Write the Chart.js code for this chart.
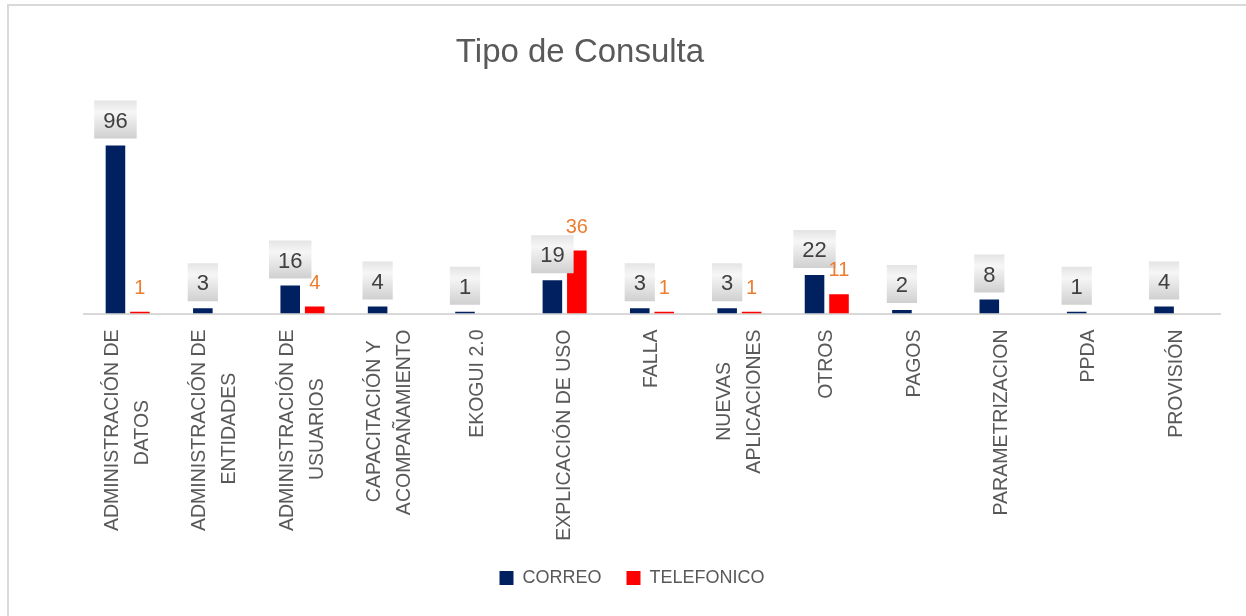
<!DOCTYPE html>
<html>
<head>
<meta charset="utf-8">
<script src="https://cdn.jsdelivr.net/npm/chart.js@4.4.0/dist/chart.umd.min.js"></script>
<style>
html,body{margin:0;padding:0;background:#fff;overflow:hidden;width:1246px;height:616px}
#frame{position:absolute;left:7px;top:4px;width:1400px;height:800px;border-left:2px solid #d9d9d9;border-top:2px solid #d9d9d9;box-sizing:border-box}
#c{position:absolute;left:0;top:0}
</style>
</head>
<body>
<div id="frame"></div>
<canvas id="c" width="1246" height="616"></canvas>
<script>
const titleText = "Tipo de Consulta";
const categories = [
  ["ADMINISTRACIÓN DE", "DATOS"],
  ["ADMINISTRACIÓN DE", "ENTIDADES"],
  ["ADMINISTRACIÓN DE", "USUARIOS"],
  ["CAPACITACIÓN Y", "ACOMPAÑAMIENTO"],
  "EKOGUI 2.0",
  "EXPLICACIÓN DE USO",
  "FALLA",
  ["NUEVAS", "APLICACIONES"],
  "OTROS",
  "PAGOS",
  "PARAMETRIZACION",
  "PPDA",
  "PROVISIÓN"
];
const seriesNames = ["CORREO", "TELEFONICO"];
const correo = [96, 3, 16, 4, 1, 19, 3, 3, 22, 2, 8, 1, 4];
const telefonico = [1, null, 4, null, null, 36, 1, 1, 11, null, null, null, null];

const FONT = '"Liberation Sans", Arial, sans-serif';
const TICK_SIZE = 19.5;

// measure context used to center the lines of two-line category labels
const mctx = document.createElement('canvas').getContext('2d');
mctx.font = TICK_SIZE + 'px ' + FONT;
function centerPad(line, width) {
  // add trailing spaces so that right-aligned rotated lines appear centred
  const spaceW = mctx.measureText(' ').width;
  const w = mctx.measureText(line).width;
  const n = Math.round((width - w) / 2 / spaceW);
  return line + ' '.repeat(Math.max(0, n));
}

const titlePlugin = {
  id: 'customTitle',
  afterDraw(chart) {
    const ctx = chart.ctx;
    ctx.save();
    ctx.font = '33px ' + FONT;
    ctx.fillStyle = '#595959';
    ctx.textAlign = 'center';
    ctx.textBaseline = 'alphabetic';
    ctx.fillText(titleText, 580, 62);
    ctx.restore();
  }
};

const valueLabelPlugin = {
  id: 'valueLabels',
  afterDatasetsDraw(chart) {
    const ctx = chart.ctx;
    ctx.save();
    ctx.textAlign = 'center';
    ctx.textBaseline = 'alphabetic';
    ctx.font = '22px ' + FONT;
    const m0 = chart.getDatasetMeta(0);
    m0.data.forEach((bar, i) => {
      const v = chart.data.datasets[0].data[i];
      if (v == null) return;
      const t = String(v);
      const w = ctx.measureText(t).width + 18;
      const h = 38;
      const x = bar.x - w / 2;
      const y = bar.y - 7 - h;
      const g = ctx.createLinearGradient(0, y, 0, y + h);
      g.addColorStop(0, '#e4e4e4');
      g.addColorStop(0.3, '#f6f6f6');
      g.addColorStop(1, '#d0d0d0');
      ctx.fillStyle = g;
      ctx.fillRect(x, y, w, h);
      ctx.fillStyle = '#404040';
      ctx.fillText(t, bar.x, y + h / 2 + 8);
    });
    ctx.font = '20px ' + FONT;
    ctx.fillStyle = '#ED7D31';
    const m1 = chart.getDatasetMeta(1);
    m1.data.forEach((bar, i) => {
      const v = chart.data.datasets[1].data[i];
      if (v == null) return;
      ctx.fillText(String(v), bar.x, bar.y - 18);
    });
    ctx.restore();
  }
};

new Chart(document.getElementById('c'), {
  type: 'bar',
  data: {
    labels: categories,
    datasets: [
      { label: seriesNames[0], data: correo, backgroundColor: '#002060', borderWidth: 0,
        categoryPercentage: 0.56, barPercentage: 0.8 },
      { label: seriesNames[1], data: telefonico, backgroundColor: '#FF0000', borderWidth: 0,
        categoryPercentage: 0.56, barPercentage: 0.8 }
    ]
  },
  options: {
    responsive: false,
    animation: false,
    devicePixelRatio: 1,
    layout: { padding: { left: 44, right: 26, top: 103.5, bottom: 19 } },
    plugins: {
      title: { display: false },
      tooltip: { enabled: false },
      legend: {
        position: 'bottom',
        labels: {
          color: '#595959',
          font: { family: FONT, size: 18 },
          boxWidth: 14,
          boxHeight: 14,
          padding: 25
        }
      }
    },
    scales: {
      x: {
        grid: { display: false, drawTicks: false },
        border: { display: true, color: '#d9d9d9', width: 2 },
        ticks: {
          autoSkip: false,
          minRotation: 90,
          maxRotation: 90,
          padding: 16,
          labelOffset: -15,
          color: '#595959',
          font: { family: FONT, size: TICK_SIZE, lineHeight: '15px' },
          callback: function (value, index) {
            const l = categories[index];
            if (!Array.isArray(l)) return ['', l];
            const W = Math.max(mctx.measureText(l[0]).width, mctx.measureText(l[1]).width);
            return [centerPad(l[0], W), '', centerPad(l[1], W)];
          }
        },
        afterFit: function (s) { s.height = 230.5; }
      },
      y: {
        display: true,
        min: 0,
        max: 120,
        grid: { display: false, drawTicks: false },
        border: { display: false },
        ticks: { display: false },
        afterFit: function (s) { s.width = 40; }
      }
    }
  },
  plugins: [valueLabelPlugin, titlePlugin]
});
</script>
</body>
</html>
